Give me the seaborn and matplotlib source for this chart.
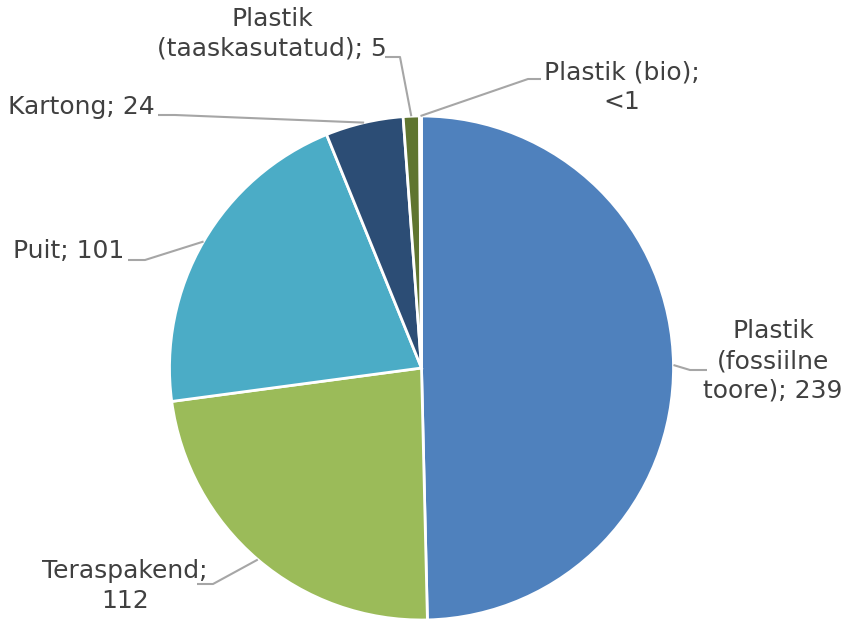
import matplotlib
matplotlib.use("Agg")
import matplotlib.pyplot as plt
import seaborn as sns
import numpy as np

categories = ["Plastik\n(fossiilne\ntoore)", "Teraspakend", "Puit", "Kartong",
              "Plastik\n(taaskasutatud)", "Plastik (bio)"]
values = [239, 112, 101, 24, 5, 0.6]
value_labels = ["239", "112", "101", "24", "5", "<1"]
label_texts = ["Plastik\n(fossiilne\ntoore); 239", "Teraspakend;\n112", "Puit; 101",
               "Kartong; 24", "Plastik\n(taaskasutatud); 5", "Plastik (bio);\n<1"]
colors = ["#4F81BD", "#9BBB59", "#4BACC6", "#2C4D75", "#5F7530", "#8064A2"]

sns.set_theme(style="white")
plt.rcParams['font.family'] = ['DejaVu Sans']

W, H = 856, 621
fig = plt.figure(figsize=(W / 100, H / 100), dpi=100)
ax = fig.add_axes([0, 0, 1, 1])
cx, cy, R = 421.5, 368.0, 252.0

def px(x, y):
    return ((x - cx) / R, (cy - y) / R)

wedges, _ = ax.pie(values, colors=sns.color_palette(colors), startangle=90,
                   counterclock=False, radius=1.0,
                   wedgeprops=dict(edgecolor="white", linewidth=2))

ax.set_xlim(px(0, 0)[0], px(W, 0)[0])
ax.set_ylim(px(0, H)[1], px(0, 0)[1])
ax.set_aspect("equal", adjustable="box")
ax.axis("off")

# label layout (pixel positions): text center, elbow, line end
layout = [
    ((773, 361), (690, 370), (707, 370)),
    ((125, 586), (213, 584), (197, 584)),
    ((69, 251), (145, 260), (128, 260)),
    ((81, 107), (175, 115), (158, 115)),
    ((272, 34), (400, 57), (385, 57)),
    ((622, 87), (528, 79), (541, 79)),
]

for w, txt, (tc, elbow, end) in zip(wedges, label_texts, layout):
    ang = np.deg2rad((w.theta1 + w.theta2) / 2)
    sx, sy = np.cos(ang), np.sin(ang)
    ex, ey = px(*elbow)
    nx, ny = px(*end)
    ax.plot([sx, ex, nx], [sy, ey, ny], color="#A6A6A6", lw=1.5,
            solid_capstyle="butt", zorder=1)
    tx, ty = px(*tc)
    ax.text(tx, ty, txt, ha="center", va="center", fontsize=18,
            color="#404040", linespacing=1.3)

fig.savefig("out.png", dpi=100)
